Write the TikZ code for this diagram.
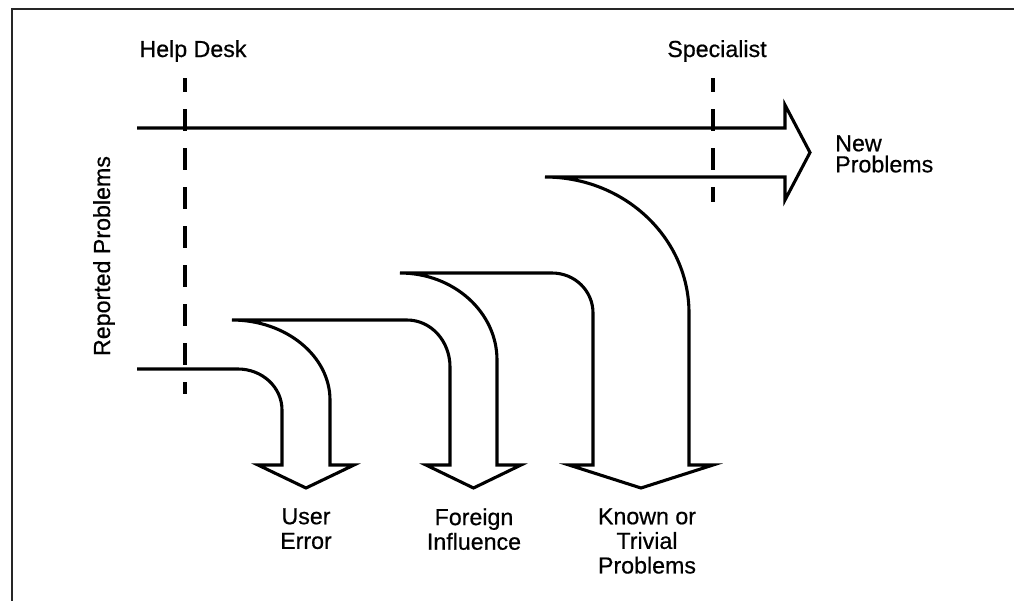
\documentclass[tikz,border=0pt]{standalone}
\usepackage{fontspec}
\setmainfont{Liberation Sans}
\newfontfamily\labelfont{Liberation Sans}[FakeBold=0.6]
\usepackage{tikz}

\tikzset{
  flow/.style={line width=2.2pt, line join=miter},
  desk/.style={line width=2.2pt, dash pattern=on 0.55cm off 0.425cm, dash phase=0.2cm},
  caption/.style={font=\labelfont\fontsize{16.5}{17.5}\selectfont, inner sep=0pt},
}

\begin{document}
\begin{tikzpicture}[x=0.025cm,y=-0.025cm]
    \useasboundingbox (0,0) rectangle (1014,601);
    % open frame, top and left edge only
    \draw[line width=1.4pt,black!85] (1014,9) -- (12,9) -- (12,601);

    % the two support levels
    \node[caption,anchor=base] (desk) at (193,57) {Help Desk};
    \node[caption,anchor=base] (spec) at (717,57) {Specialist};
    \coordinate (deskTop) at (185,78);
    \coordinate (deskBot) at (185,394);
    \coordinate (specTop) at (713,78);
    \coordinate (specBot) at (713,202);
    \draw[desk] (deskTop) -- (deskBot);
    \draw[desk] (specTop) -- (specBot);

    % flow of problems
    \coordinate (in) at (137,128);
    \coordinate (out) at (137,369);
    \coordinate (newTip) at (810,152.5);
    \coordinate (knownTip) at (641,488);
    \coordinate (foreignTip) at (473.5,488);
    \coordinate (userTip) at (306,488);
    \draw[flow] (in) -- (785,128) -- (785,105) -- (newTip) -- (785,200) -- (785,177) -- (545,177)
        .. controls (624.5,177) and (689,238) .. (689,313) -- (689,465) -- ++(24,0)
        -- (knownTip) -- (569,465) -- (593,465) -- (593,313)
        .. controls (593,291) and (575,273) .. (552,273) -- (400,273)
        .. controls (453.5,273) and (497,312) .. (497,360) -- (497,465) -- ++(24,0)
        -- (foreignTip) -- (426,465) -- (450,465) -- (450,367)
        .. controls (450,341) and (431,320) .. (407,320) -- (232,320)
        .. controls (286,320) and (330,356) .. (330,400) -- (330,465) -- ++(24,0)
        -- (userTip) -- (258,465) -- (282,465) -- (282,410)
        .. controls (282,387) and (262,369) .. (238,369) -- (out);

    % labels
    \node[caption,rotate=90,anchor=base] (reported) at (110,256) {Reported Problems};
    \node[caption,align=left,anchor=north west,font=\labelfont\fontsize{16.5}{15}\selectfont] (new) at (835,135) {New\\Problems};
    \node[caption,align=center,anchor=north] (user) at (306,508) {User\\Error};
    \node[caption,align=center,anchor=north] (foreign) at (474,508) {Foreign\\Influence};
    \node[caption,align=center,anchor=north] (known) at (647,508) {Known or\\Trivial\\Problems};
\end{tikzpicture}
\end{document}
